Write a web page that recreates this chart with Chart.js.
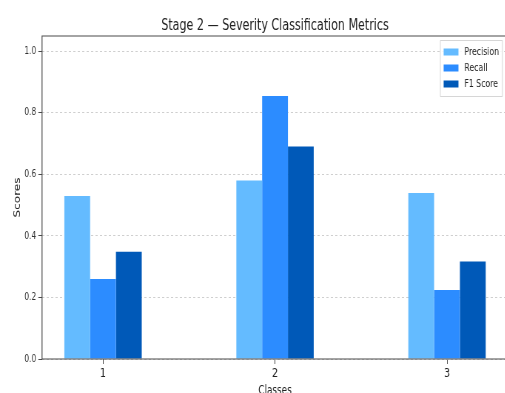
<!DOCTYPE html>
<html>
<head>
<meta charset="utf-8">
<script src="https://cdn.jsdelivr.net/npm/chart.js@4.4.1/dist/chart.umd.min.js"></script>
<style>
  html, body { margin: 0; padding: 0; background: #ffffff; }
  body { width: 505px; height: 393px; overflow: hidden; position: relative; }
  #wrap { position: absolute; left: 0; top: 0; transform: scaleX(0.74); transform-origin: 0 0; }
  canvas { display: block; }
</style>
</head>
<body>
<div id="wrap"><canvas id="chart" width="700" height="400"></canvas></div>
<script>
// Classes shown along the x axis and their numeric positions
const classLabels = ['1', '2', '3'];
const classPositions = [1, 2, 3];

// Per-class metric scores
const precision = [0.53, 0.58, 0.54];
const recall = [0.26, 0.855, 0.224];
const f1Score = [0.349, 0.691, 0.317];

// Score axis ticks
const scoreTicks = [0.0, 0.2, 0.4, 0.6, 0.8, 1.0];

const seriesNames = ['Precision', 'Recall', 'F1 Score'];
const seriesColors = ['#64bbff', '#2c8cff', '#0059b8'];

const FONT = 'DejaVu Sans';
const AXIS_COLOR = '#4a4a4a';

function points(values) {
  return classPositions.map((x, i) => ({ x: x, y: values[i] }));
}

// Solid spines: left, bottom and top of the plot area
const framePlugin = {
  id: 'frame',
  afterDraw(chart) {
    const { ctx, chartArea: a } = chart;
    ctx.save();
    ctx.setLineDash([]);
    ctx.strokeStyle = AXIS_COLOR;
    ctx.lineWidth = 1.2;
    ctx.beginPath();
    ctx.moveTo(chart.width, a.top);
    ctx.lineTo(a.left, a.top);
    ctx.lineTo(a.left, a.bottom);
    ctx.lineTo(chart.width, a.bottom);
    ctx.stroke();
    ctx.restore();
  }
};

// Boxed legend in the upper right corner of the plot
const boxLegendPlugin = {
  id: 'boxLegend',
  afterDraw(chart) {
    const { ctx, chartArea: a } = chart;
    const sets = chart.data.datasets;
    const boxW = 84, rowH = 16, pad = 5;
    const boxH = pad * 2 + rowH * sets.length - 2;
    const x0 = a.right - 8 - boxW;
    const y0 = a.top + 4;
    ctx.save();
    ctx.fillStyle = 'rgba(255,255,255,0.85)';
    ctx.strokeStyle = '#d6d6d6';
    ctx.lineWidth = 1;
    ctx.beginPath();
    ctx.rect(x0 + 0.5, y0 + 0.5, boxW, boxH);
    ctx.fill();
    ctx.stroke();
    ctx.font = '10.5px "' + FONT + '"';
    ctx.textBaseline = 'middle';
    ctx.textAlign = 'left';
    sets.forEach((ds, i) => {
      const cy = y0 + pad + 7 + i * rowH;
      ctx.fillStyle = ds.backgroundColor;
      ctx.fillRect(x0 + 5, cy - 3.5, 20, 7);
      ctx.fillStyle = '#222';
      ctx.fillText(ds.label, x0 + 33, cy);
    });
    ctx.restore();
  }
};

new Chart(document.getElementById('chart'), {
  type: 'bar',
  data: {
    datasets: [
      { label: seriesNames[0], data: points(precision), backgroundColor: seriesColors[0] },
      { label: seriesNames[1], data: points(recall), backgroundColor: seriesColors[1] },
      { label: seriesNames[2], data: points(f1Score), backgroundColor: seriesColors[2] }
    ]
  },
  options: {
    responsive: false,
    animation: false,
    devicePixelRatio: 1,
    layout: { padding: { top: 0, right: 13.5, bottom: 0, left: 0 } },
    datasets: { bar: { categoryPercentage: 0.45, barPercentage: 1.0, borderWidth: 0 } },
    plugins: {
      legend: { display: false },
      tooltip: { enabled: false },
      title: {
        display: true,
        fullSize: false,
        text: 'Stage 2 \u2014 Severity Classification Metrics',
        color: '#222',
        font: { family: FONT, size: 15, weight: 'normal' },
        padding: { top: 17, bottom: 1 }
      }
    },
    scales: {
      x: {
        type: 'linear',
        offset: false,
        min: 0.6454,
        max: 3.3546,
        afterBuildTicks(scale) {
          scale.ticks = classPositions.map(v => ({ value: v }));
        },
        afterFit(scale) { scale.height = 41; },
        ticks: {
          color: '#222',
          font: { family: FONT, size: 13 },
          padding: 2,
          autoSkip: false,
          maxRotation: 0,
          callback: (v) => classLabels[classPositions.indexOf(v)]
        },
        grid: { offset: false, drawOnChartArea: false, drawTicks: true, tickLength: 5, tickColor: AXIS_COLOR, tickWidth: 1 },
        border: { display: false },
        title: {
          display: true,
          text: 'Classes',
          color: '#222',
          font: { family: FONT, size: 12 },
          padding: { top: 0, bottom: 2 }
        }
      },
      y: {
        min: 0,
        max: 1.05,
        afterBuildTicks(scale) {
          scale.ticks = scoreTicks.map(v => ({ value: v }));
        },
        afterFit(scale) { scale.width = 56.8; },
        ticks: {
          color: '#333',
          font: { family: FONT, size: 10 },
          padding: 3,
          callback: (v) => Number(v).toFixed(1)
        },
        grid: { color: '#cfcfcf', lineWidth: 1, drawTicks: true, tickLength: 5, tickColor: AXIS_COLOR, tickWidth: 1, tickBorderDash: [] },
        border: { display: false, dash: [3, 3] },
        title: {
          display: true,
          text: 'Scores',
          color: '#222',
          font: { family: FONT, size: 12 },
          padding: { top: 16.7, bottom: 0 }
        }
      }
    }
  },
  plugins: [framePlugin, boxLegendPlugin]
});
</script>
</body>
</html>
